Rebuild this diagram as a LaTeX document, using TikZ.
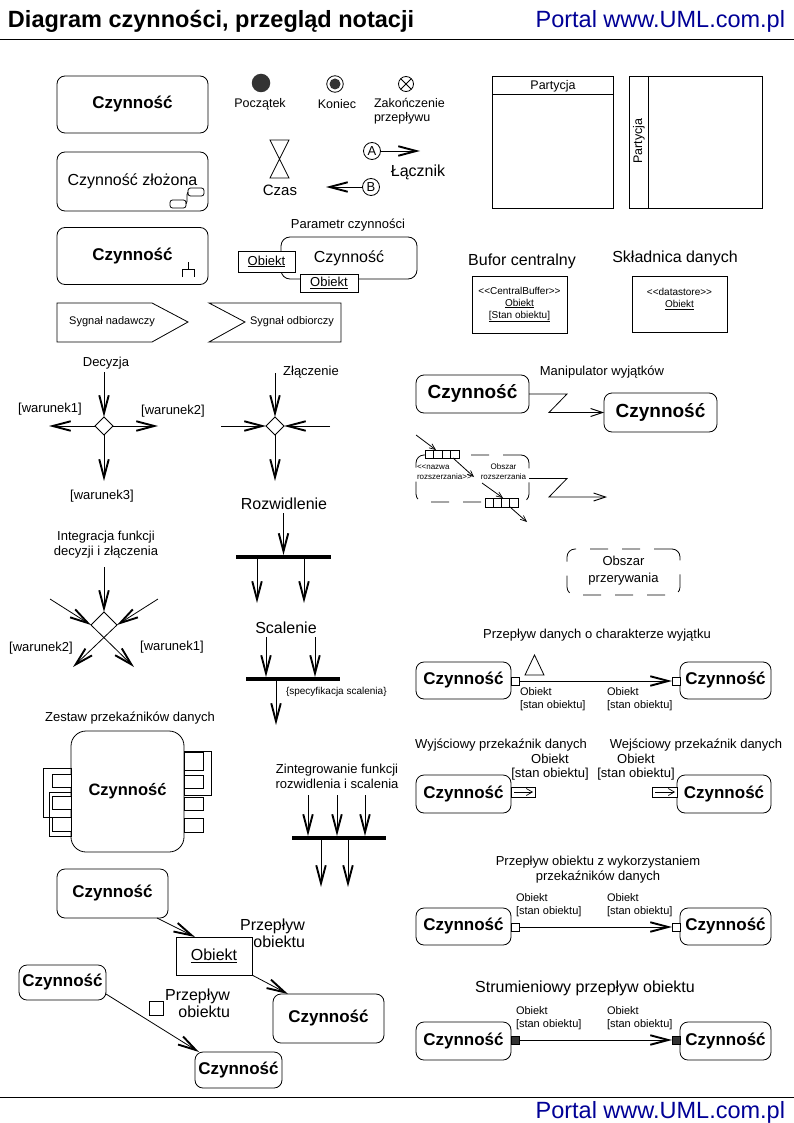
\documentclass[tikz,border=0pt]{standalone}
\usepackage{fontspec}
\setmainfont{Liberation Sans}
\usetikzlibrary{arrows.meta,calc,shapes.geometric}
\definecolor{navy}{RGB}{0,0,150}
\definecolor{dk}{RGB}{51,51,51}
\newcommand\stl{<\kern0pt<}
\newcommand\stg{>\kern0pt>}
\tikzset{
  every node/.style={inner sep=0pt, outer sep=0pt},
  f8/.style={font=\fontsize{8}{10}\selectfont},
  f10/.style={font=\fontsize{10}{12}\selectfont},
  f11/.style={font=\fontsize{11}{12.5}\selectfont},
  f12/.style={font=\fontsize{12.5}{14}\selectfont},
  f13/.style={font=\fontsize{13}{15}\selectfont},
  f16/.style={font=\fontsize{16}{17}\selectfont},
  act/.style={draw, rounded corners=8pt, font=\bfseries\fontsize{17}{20}\selectfont},
  fl/.style={-{Straight Barb[length=18pt,width=9.5pt,line width=1.9pt]}},
  tfl/.style={-{Straight Barb[length=12pt,width=8pt,line width=0.9pt]}},
  sfl/.style={-{Straight Barb[length=6pt,width=5pt,line width=0.7pt]}},
  pinb/.style={draw, fill=white, minimum size=8pt},
  dpin/.style={draw, fill=dk, minimum size=8pt},
  bar/.style={fill=black, minimum height=4pt},
  dsh/.style={draw, rounded corners=8pt, dash pattern=on 18pt off 14pt},
  dec/.style={draw, diamond, aspect=1, minimum width=18pt, minimum height=18pt},
  lab/.style={f11, anchor=north west, align=left}
}
\begin{document}
\begin{tikzpicture}[x=1pt,y=-1pt,line width=0.8pt]
\fill[white] (0,0) rectangle (794,1123);
\useasboundingbox (0,0) rectangle (794,1123);

% header / footer
\node[anchor=base west, font=\bfseries\fontsize{23.5}{26}\selectfont] (title) at (8,28) {Diagram czynności, przegląd notacji};
\node[anchor=base east, text=navy, font=\fontsize{23.5}{26}\selectfont] (portal) at (785,28) {Portal www.UML.com.pl};
\draw (0,39) -- (794,39);
\draw (0,1097) -- (794,1097);
\node[anchor=base east, text=navy, font=\fontsize{23.5}{26}\selectfont] (portal2) at (785,1118) {Portal www.UML.com.pl};

% activities top-left
\node[act, minimum width=151pt, minimum height=57pt] (a1) at (132.5,104.5) {Czynność};
\node[act, font=\fontsize{16}{19}\selectfont, minimum width=151pt, minimum height=59pt] (a2) at (132.5,181.5) {Czynność złożona};
\node[draw, rounded corners=2.5pt, minimum width=16pt, minimum height=8pt] (ic1) at (196,192) {};
\node[draw, rounded corners=2.5pt, minimum width=16pt, minimum height=8pt] (ic2) at (178,204) {};
\draw (ic2.east) .. controls (188,203) and (186,193) .. (ic1.west);
\node[act, minimum width=151pt, minimum height=57pt] (a3) at (132.5,256) {Czynność};
\draw (188,262) -- (188,269) (182,277) -- (182,269) -- (194,269) -- (194,277);

% signals
\draw (57,303) -- (152,303) -- (188,322) -- (152,342) -- (57,342) -- cycle;
\node[f11] (sn) at (112,322) {Sygnał nadawczy};
\draw (209,303) -- (341,303) -- (341,342) -- (209,342) -- (245,322) -- cycle;
\node[f11] (so) at (292,322) {Sygnał odbiorczy};

% initial, final
\node[circle, fill=dk, minimum size=18.5pt] (start) at (261,83) {};
\node[f12] (startl) at (260,104) {Początek};
\node[circle, draw, minimum size=16.5pt] (fin) at (335,84) {};
\node[circle, fill=dk, minimum size=11pt] (fin2) at (335,84) {};
\node[f12] (finl) at (337,104) {Koniec};
\node[circle, draw, minimum size=15pt] (ff) at (406,84) {};
\draw (ff.north west) -- (ff.south east) (ff.north east) -- (ff.south west);
\node[f12, anchor=north west, align=left] (ffl) at (374,98) {Zakończenie\\przepływu};

% time
\draw (270,140) -- (289,140) -- (270,178) -- (289,178) -- cycle;
\node[font=\fontsize{15}{17}\selectfont] (czas) at (280,190) {Czas};

% connectors
\node[circle, draw, minimum size=17pt, f13] (cA) at (372,151) {A};
\coordinate (cAe) at (420,151);
\draw[fl] (cA) -- (cAe);
\node[circle, draw, minimum size=17pt, f13] (cB) at (371,187) {B};
\coordinate (cBw) at (326,187);
\draw[fl] (cB) -- (cBw);
\node[f16] (lacz) at (418,172) {Łącznik};

% partitions
\node[draw, minimum width=121pt, minimum height=132pt] (p1) at (552.5,142) {};
\draw (492,94) -- (613,94);
\node[f12] (p1l) at (553,86) {Partycja};
\node[draw, minimum width=133pt, minimum height=132pt] (p2) at (695.5,142) {};
\draw (648,76) -- (648,208);
\node[f12, rotate=90] (p2l) at (639,141) {Partycja};

% parameter
\node[f13] (parl) at (348,225) {Parametr czynności};
\node[draw, rounded corners=9pt, minimum width=136pt, minimum height=42pt, font=\fontsize{16}{19}\selectfont] (par) at (349,258) {Czynność};
\node[draw, fill=white, minimum width=57pt, minimum height=21pt, f13] (po1) at (266.5,261.5) {\underline{Obiekt}};
\node[draw, fill=white, minimum width=58pt, minimum height=18pt, f13] (po2) at (329,283) {\underline{Obiekt}};

% buffers
\node[f16] (bufl) at (522,261) {Bufor centralny};
\node[draw, minimum width=95pt, minimum height=57pt, align=center, f10] (cb) at (519.5,304.5) {\stl CentralBuffer\stg\\\underline{Obiekt}\\\underline{[Stan obiektu]}};
\node[f16] (dsl) at (675,258) {Składnica danych};
\node[draw, minimum width=95pt, minimum height=56pt] (ds) at (679.5,304) {};
\node[align=center, f10] (dst) at (679.5,299) {\stl datastore\stg\\\underline{Obiekt}};

% decision
\node[f13] (decl) at (106,363) {Decyzja};
\node[dec] (dc) at (104,426) {};
\coordinate (dcT) at (104,372);
\coordinate (dcL) at (49,426);
\coordinate (dcR) at (158,426);
\coordinate (dcB) at (104,481);
\draw[fl] (dcT) -- (dc.north);
\draw[fl] (dc.west) -- (dcL);
\draw[fl] (dc.east) -- (dcR);
\draw[fl] (dc.south) -- (dcB);
\node[f13] (w1) at (50,409) {[warunek1]};
\node[f13] (w2) at (173,411) {[warunek2]};
\node[f13] (w3) at (102,496) {[warunek3]};

% merge
\node[f13] (jnl) at (311,372) {Złączenie};
\node[dec] (jn) at (275,426) {};
\coordinate (jT) at (275,373);
\coordinate (jL) at (221,426);
\coordinate (jR) at (330,426);
\coordinate (jB) at (275,481);
\draw[fl] (jT) -- (jn.north);
\draw[fl] (jL) -- (jn.west);
\draw[fl] (jR) -- (jn.east);
\draw[fl] (jn.south) -- (jB);

% fork
\node[f16] (rozl) at (284,504) {Rozwidlenie};
\node[bar, minimum width=95pt] (fork) at (283.5,557) {};
\coordinate (fkT) at (283.5,513);
\draw[fl] (fkT) -- (fork.north);
\coordinate (fo1) at (257,603);
\coordinate (fo2) at (304,603);
\draw[fl] (fork.south -| fo1) -- (fo1);
\draw[fl] (fork.south -| fo2) -- (fo2);

% join
\node[f16] (scl) at (286,628) {Scalenie};
\node[bar, minimum width=94pt] (jbar) at (293,679) {};
\coordinate (si1) at (266,637);
\coordinate (si2) at (315,637);
\coordinate (sjo) at (276,725);
\draw[fl] (si1) -- (si1 |- jbar.north);
\draw[fl] (si2) -- (si2 |- jbar.north);
\draw[fl] (sjo |- jbar.south) -- (sjo);
\node[f10, anchor=west] (spec) at (286,692) {\{specyfikacja scalenia\}};

% combined decision/merge
\node[f13, align=center] (intl) at (106,545) {Integracja funkcji\\decyzji i złączenia};
\coordinate (iT) at (104,612);
\coordinate (iL) at (91,625);
\coordinate (iR) at (117,625);
\coordinate (iBL) at (73,667);
\coordinate (iBR) at (134,667);
\coordinate (iin1) at (104,567);
\coordinate (iin2) at (50,599);
\coordinate (iin3) at (158,599);
\draw (iL) -- (iT) -- (iR);
\draw[fl] (iin1) -- (iT);
\draw[fl] (iin2) -- (iL);
\draw[fl] (iin3) -- (iR);
\draw[fl] (iL) -- (iBR);
\draw[fl] (iR) -- (iBL);
\node[f13] (iw2) at (41,648) {[warunek2]};
\node[f13] (iw1) at (172,647) {[warunek1]};

% pin set
\node[f13] (zsl) at (130,718) {Zestaw przekaźników danych};
\node[draw, minimum width=28pt, minimum height=49pt] (zo1) at (57,792.5) {};
\node[draw, minimum width=22pt, minimum height=44pt] (zo2) at (60,814) {};
\node[draw, minimum width=27pt, minimum height=44pt] (zo3) at (197.5,773) {};
\node[draw, rounded corners=15pt, minimum width=113pt, minimum height=121pt, font=\bfseries\fontsize{16.5}{19}\selectfont] (zs) at (127.5,791.5) {Czynność};
\node[draw, fill=white, minimum width=19pt, minimum height=13pt] (zl1) at (61.5,780.5) {};
\node[draw, fill=white, minimum width=19pt, minimum height=13pt] (zl2) at (61.5,802.5) {};
\node[draw, fill=white, minimum width=19pt, minimum height=14pt] (zl3) at (61.5,824) {};
\node[draw, fill=white, minimum width=19pt, minimum height=18pt] (zr1) at (193.5,761) {};
\node[draw, fill=white, minimum width=19pt, minimum height=13pt] (zr2) at (193.5,781.5) {};
\node[draw, fill=white, minimum width=19pt, minimum height=13pt] (zr3) at (193.5,803.5) {};
\node[draw, fill=white, minimum width=19pt, minimum height=14pt] (zr4) at (193.5,825) {};

% combined fork/join
\node[f13, align=center] (zil) at (337,776) {Zintegrowanie funkcji\\rozwidlenia i scalenia};
\node[bar, minimum width=94pt] (zbar) at (339,838) {};
\coordinate (zi1) at (308,795);
\coordinate (zi2) at (337,795);
\coordinate (zi3) at (365,795);
\coordinate (zo1e) at (321,887);
\coordinate (zo2e) at (348,887);
\draw[fl] (zi1) -- (zi1 |- zbar.north);
\draw[fl] (zi2) -- (zi2 |- zbar.north);
\draw[fl] (zi3) -- (zi3 |- zbar.north);
\draw[fl] (zo1e |- zbar.south) -- (zo1e);
\draw[fl] (zo2e |- zbar.south) -- (zo2e);

% object flows bottom-left
\node[act, minimum width=111pt, minimum height=49pt] (oA) at (112.5,893.5) {Czynność};
\node[draw, minimum width=76pt, minimum height=38pt, f16] (ob) at (214,956) {\underline{Obiekt}};
\node[act, minimum width=111pt, minimum height=49pt] (oC) at (328.5,1018.5) {Czynność};
\node[act, minimum width=87pt, minimum height=35pt] (oB) at (62.5,982.5) {Czynność};
\node[act, minimum width=87pt, minimum height=36pt] (oD) at (238.5,1070) {Czynność};
\draw[fl] ($(oA.south east)+(-11,0)$) -- ($(ob.north west)+(19,0)$);
\draw[fl] (ob.south east) -- ($(oC.north west)+(15,0)$);
\draw[fl] ($(oB.south east)+(0,-6)$) -- ($(oD.north west)+(4,0)$);
\node[draw, minimum size=14pt] (pq) at (156,1008) {};
\node[f16, anchor=east, align=right] (pf1) at (305,933.5) {Przepływ\\obiektu};
\node[f16, anchor=east, align=right] (pf2) at (230,1003.5) {Przepływ\\obiektu};

% exception handler
\node[f13] (manl) at (602,372) {Manipulator wyjątków};
\node[act, font=\bfseries\fontsize{19}{22}\selectfont, minimum width=113pt, minimum height=38pt] (m1) at (472.5,394) {Czynność};
\node[act, font=\bfseries\fontsize{19}{22}\selectfont, minimum width=113pt, minimum height=39pt] (m2) at (660.5,412.5) {Czynność};
\draw[tfl] (m1.east) -- (567,394) -- (549,412.5) -- (m2.west);

% expansion region
\node[dsh, minimum width=113pt, minimum height=47pt] (exr) at (472.5,478.5) {};
\node[draw, fill=white, minimum width=34pt, minimum height=8pt] (st1) at (442,454) {};
\draw (450.5,450) -- (450.5,458) (442,450) -- (442,458) (433.5,450) -- (433.5,458);
\node[draw, fill=white, minimum width=33pt, minimum height=9pt] (st2) at (501.5,502.5) {};
\draw (493.25,498) -- (493.25,507) (501.5,498) -- (501.5,507) (509.75,498) -- (509.75,507);
\node[f8, anchor=west, align=left] (exn) at (417,472) {\stl nazwa\\rozszerzania\stg};
\node[f8, align=center] (exo) at (503.5,472) {Obszar\\rozszerzania};
\coordinate (e1) at (416,435);
\coordinate (e2) at (474,477);
\coordinate (e3) at (482,483);
\coordinate (e4) at (527,522);
\draw[sfl] (e1) -- ($(st1.north west)+(11,0)$);
\draw[sfl] ($(st1.south west)+(28,0)$) -- (e2);
\draw[sfl] (e3) -- ($(st2.north west)+(18,0)$);
\draw[sfl] ($(st2.south west)+(25,0)$) -- (e4);
\coordinate (zz) at (607,497);
\draw[tfl] (exr.east) -- (567,478.5) -- (549,497) -- (zz);

% interruptible region
\node[dsh, minimum width=113pt, minimum height=46pt] (ir) at (623.5,572) {};
\node[f13, align=center, font=\fontsize{13}{17}\selectfont] (irl) at (623.5,571) {Obszar\\przerywania};

% exception data flow
\node[f13] (dfl) at (597,635) {Przepływ danych o charakterze wyjątku};
\node[act, minimum width=95pt, minimum height=37pt] (d1L) at (463.5,680.5) {Czynność};
\node[act, minimum width=91pt, minimum height=37pt] (d1R) at (725.5,680.5) {Czynność};
\node[pinb] (p1L) at (515,681) {};
\node[pinb] (p1R) at (676,681) {};
\draw[fl] (p1L.east) -- (p1R.west);
\draw (525,675) -- (534.5,655) -- (544,675) -- cycle;
\node[lab] (l1a) at (520,688) {Obiekt\\{[stan obiektu]}};
\node[lab] (l1b) at (607,688) {Obiekt\\{[stan obiektu]}};

% output / input pins
\node[f13] (opl) at (501,745) {Wyjściowy przekaźnik danych};
\node[f13] (ipl) at (696,745) {Wejściowy przekaźnik danych};
\node[f13, align=center, font=\fontsize{13}{14}\selectfont] (opo) at (550,767) {Obiekt\\{[stan obiektu]}};
\node[f13, align=center, font=\fontsize{13}{14}\selectfont] (ipo) at (636,767) {Obiekt\\{[stan obiektu]}};
\node[act, minimum width=95pt, minimum height=38pt] (d2L) at (463.5,794) {Czynność};
\node[act, minimum width=94pt, minimum height=38pt] (d2R) at (724,794) {Czynność};
\node[draw, fill=white, minimum width=24pt, minimum height=10pt] (op) at (523,792) {};
\node[draw, fill=white, minimum width=25pt, minimum height=10pt] (ip) at (664.5,792) {};
\draw[-{Straight Barb[length=6pt,width=7pt,line width=0.7pt]}] ($(op.west)+(3,0)$) -- ($(op.east)+(-2,0)$);
\draw[-{Straight Barb[length=6pt,width=7pt,line width=0.7pt]}] ($(ip.west)+(3,0)$) -- ($(ip.east)+(-2,0)$);

% object flow with pins
\node[f13, align=center] (pol) at (598,870) {Przepływ obiektu z wykorzystaniem\\przekaźników danych};
\node[act, minimum width=95pt, minimum height=37pt] (d3L) at (463.5,926.5) {Czynność};
\node[act, minimum width=91pt, minimum height=37pt] (d3R) at (725.5,926.5) {Czynność};
\node[pinb] (p3L) at (515,927) {};
\node[pinb] (p3R) at (676,927) {};
\draw[fl] (p3L.east) -- (p3R.west);
\node[lab] (l3a) at (516,894) {Obiekt\\{[stan obiektu]}};
\node[lab] (l3b) at (607,894) {Obiekt\\{[stan obiektu]}};

% streaming
\node[f16] (strl) at (585,988) {Strumieniowy przepływ obiektu};
\node[act, minimum width=95pt, minimum height=38pt] (d4L) at (463.5,1041) {Czynność};
\node[act, minimum width=91pt, minimum height=38pt] (d4R) at (725.5,1041) {Czynność};
\node[dpin] (p4L) at (515,1040) {};
\node[dpin] (p4R) at (676,1040) {};
\draw[fl] (p4L.east) -- (p4R.west);
\node[lab] (l4a) at (516,1007) {Obiekt\\{[stan obiektu]}};
\node[lab] (l4b) at (607,1007) {Obiekt\\{[stan obiektu]}};
\end{tikzpicture}
\end{document}
